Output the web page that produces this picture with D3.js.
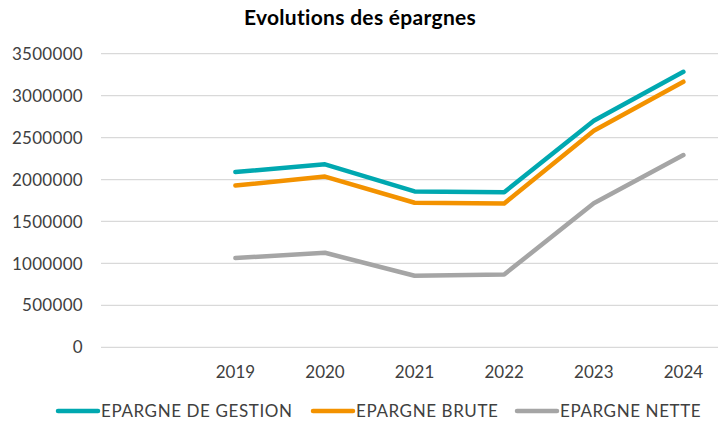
<!DOCTYPE html>
<html>
<head>
<meta charset="utf-8">
<script src="https://cdn.jsdelivr.net/npm/d3@7"></script>
<style>
  body { margin: 0; background: #fff; }
  svg { display: block; font-family: Lato, "DejaVu Sans", sans-serif; }
</style>
</head>
<body>
<svg id="chart" width="718" height="423"></svg>
<script>
// first category is left blank in the original sheet
const years = ['', '2019', '2020', '2021', '2022', '2023', '2024'];
const epargneGestion = [null, 2090000, 2181000, 1858000, 1848000, 2701000, 3285000];
const epargneBrute = [null, 1928000, 2035000, 1723000, 1715000, 2582000, 3166000];
const epargneNette = [null, 1064000, 1127000, 853000, 868000, 1716000, 2292000];
const yTicks = [0, 500000, 1000000, 1500000, 2000000, 2500000, 3000000, 3500000];

const series = [
  { name: 'EPARGNE DE GESTION', values: epargneGestion, color: '#00A8B0' },
  { name: 'EPARGNE BRUTE', values: epargneBrute, color: '#F39200' },
  { name: 'EPARGNE NETTE', values: epargneNette, color: '#A5A5A5' },
];

const MARGIN = { top: 54, right: 0, bottom: 76, left: 101 };
const WIDTH = 718, HEIGHT = 423;

const svg = d3.select('#chart');

const x = d3.scalePoint()
  .domain(years)
  .range([MARGIN.left, MARGIN.left + 89.6 * 7])
  .padding(0.5);

const y = d3.scaleLinear()
  .domain([0, 3500000])
  .range([HEIGHT - MARGIN.bottom + 0.3, MARGIN.top - 0.3]);

// grid
svg.append('g')
  .selectAll('line')
  .data(yTicks)
  .join('line')
  .attr('x1', MARGIN.left)
  .attr('x2', WIDTH)
  .attr('y1', (d) => y(d))
  .attr('y2', (d) => y(d))
  .attr('stroke', '#d9d9d9')
  .attr('stroke-width', 1.2);

// y axis labels
svg.append('g')
  .selectAll('text')
  .data(yTicks)
  .join('text')
  .attr('x', 83)
  .attr('y', (d) => y(d))
  .attr('dy', '0.36em')
  .attr('text-anchor', 'end')
  .style('font-size', '17px')
  .style('letter-spacing', '0.3px')
  .style('fill', '#404040')
  .text((d) => d);

// x axis labels
svg.append('g')
  .selectAll('text')
  .data(years.filter((d) => d !== ''))
  .join('text')
  .attr('x', (d) => x(d))
  .attr('y', 378)
  .attr('text-anchor', 'middle')
  .style('font-size', '17px')
  .style('fill', '#404040')
  .text((d) => d);

const line = d3.line()
  .defined((d) => d != null)
  .x((d, i) => x(years[i]))
  .y((d) => y(d));

svg.append('g')
  .selectAll('path')
  .data(series.slice().reverse())
  .join('path')
  .attr('d', (s) => line(s.values))
  .attr('fill', 'none')
  .attr('stroke', (s) => s.color)
  .attr('stroke-width', 4.5)
  .attr('stroke-linecap', 'round')
  .attr('stroke-linejoin', 'round');

// title
svg.append('text')
  .attr('x', 360)
  .attr('y', 25)
  .attr('text-anchor', 'middle')
  .style('font-size', '21px')
  .style('font-weight', 'bold')
  .style('letter-spacing', '0.3px')
  .style('fill', '#000')
  .text('Evolutions des épargnes');

// legend
const legendX = [58, 313, 517];
const legend = svg.append('g')
  .selectAll('g')
  .data(series)
  .join('g')
  .attr('transform', (d, i) => `translate(${legendX[i]}, 411)`);

legend.append('line')
  .attr('x1', 0)
  .attr('x2', 40)
  .attr('stroke', (d) => d.color)
  .attr('stroke-width', 4.5)
  .attr('stroke-linecap', 'round');

legend.append('text')
  .attr('x', 43)
  .attr('dy', '0.36em')
  .style('font-size', '17px')
  .style('letter-spacing', '0.6px')
  .style('fill', '#404040')
  .text((d) => d.name);
</script>
</body>
</html>
